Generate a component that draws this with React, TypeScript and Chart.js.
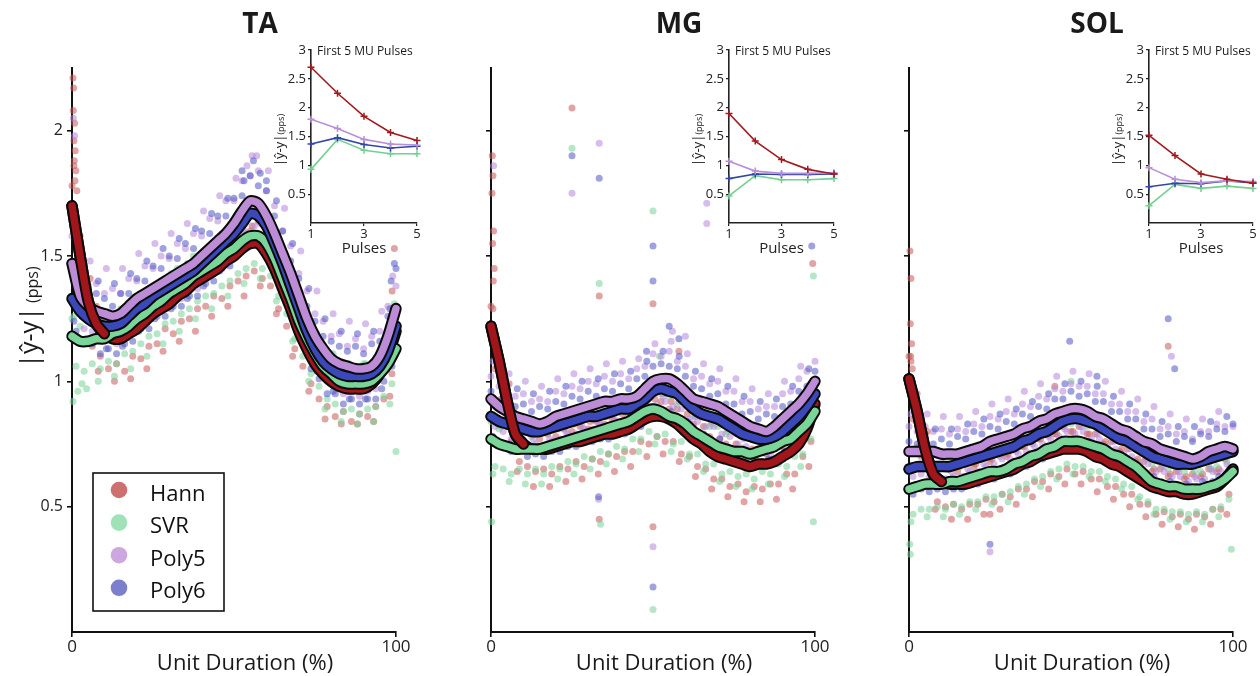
import React, { useEffect, useRef } from "react";
import { Chart, registerables } from "chart.js";

Chart.register(...registerables);

type Pt = [number, number];

const FONT = "'Open Sans', 'Noto Sans', sans-serif";
Chart.defaults.font.family = FONT;
Chart.defaults.color = "#222";

// ---------- shared categories / ticks ----------
const SERIES = ["Hann", "SVR", "Poly5", "Poly6"];
const CURVE_X = [0, 2.5, 5, 7.5, 10, 12.5, 15, 17.5, 20, 22.5, 25, 27.5, 30, 32.5, 35, 37.5, 40, 42.5, 45, 47.5, 50, 52.5, 55, 57.5, 60, 62.5, 65, 67.5, 70, 72.5, 75, 77.5, 80, 82.5, 85, 87.5, 90, 92.5, 95, 97.5, 100];
const LO_X = [1.25, 3.75, 6.25, 8.75, 11.25, 13.75, 16.25, 18.75, 21.25, 23.75, 26.25, 28.75, 31.25, 33.75, 36.25, 38.75, 41.25, 43.75, 46.25, 48.75, 51.25, 53.75, 56.25, 58.75, 61.25, 63.75, 66.25, 68.75, 71.25, 73.75, 76.25, 78.75, 81.25, 83.75, 86.25, 88.75, 91.25, 93.75, 96.25, 98.75];
const FAR_X = [0.6, 3.1, 5.6, 8.1, 10.6, 13.1, 15.6, 18.1, 20.6, 23.1, 25.6, 28.1, 30.6, 33.1, 35.6, 38.1, 40.6, 43.1, 45.6, 48.1, 50.6, 53.1, 55.6, 58.1, 60.6, 63.1, 65.6, 68.1, 70.6, 73.1, 75.6, 78.1, 80.6, 83.1, 85.6, 88.1, 90.6, 93.1, 95.6, 98.1];
const MAIN_X_TICKS = [0, 100];
const MAIN_Y_TICKS = [0.5, 1, 1.5, 2];
const INSET_X = [1, 2, 3, 4, 5];
const INSET_X_TICKS = [1, 3, 5];
const INSET_Y_TICKS = [0.5, 1, 1.5, 2, 2.5, 3];

const LINE_COLORS = ["#a0161b", "#7ad698", "#bd8cd7", "#3a48b9"];
const DOT_COLORS = ["rgba(200,90,90,0.55)", "rgba(120,210,152,0.55)", "rgba(182,134,218,0.55)", "rgba(80,86,196,0.55)"];
const LEGEND_COLORS = ["rgb(205,112,112)", "rgb(160,226,184)", "rgb(204,168,222)", "rgb(124,128,204)"];
const INSET_COLORS = ["#a3191c", "#74cf92", "#b98fd9", "#3346a8"];

// ---------- TA ----------
const TA_HANN = [1.70, 1.50, 1.32, 1.23, 1.19, 1.17, 1.17, 1.19, 1.21, 1.24, 1.27, 1.29, 1.31, 1.34, 1.36, 1.39, 1.41, 1.43, 1.45, 1.48, 1.50, 1.53, 1.55, 1.55, 1.51, 1.45, 1.37, 1.29, 1.20, 1.13, 1.07, 1.03, 1.00, 0.98, 0.97, 0.97, 0.97, 0.99, 1.03, 1.10, 1.20];
const TA_SVR = [1.18, 1.16, 1.16, 1.17, 1.17, 1.19, 1.20, 1.22, 1.25, 1.27, 1.30, 1.32, 1.35, 1.37, 1.39, 1.42, 1.44, 1.46, 1.48, 1.51, 1.53, 1.56, 1.58, 1.58, 1.55, 1.49, 1.41, 1.33, 1.24, 1.17, 1.11, 1.06, 1.03, 1.00, 0.99, 0.99, 0.99, 1.00, 1.03, 1.07, 1.13];
const TA_POLY5 = [1.47, 1.34, 1.30, 1.28, 1.27, 1.26, 1.27, 1.30, 1.33, 1.35, 1.37, 1.39, 1.41, 1.43, 1.45, 1.47, 1.50, 1.53, 1.56, 1.59, 1.63, 1.68, 1.72, 1.71, 1.66, 1.59, 1.51, 1.43, 1.34, 1.25, 1.18, 1.13, 1.09, 1.07, 1.06, 1.05, 1.05, 1.06, 1.10, 1.18, 1.29];
const TA_POLY6 = [1.33, 1.28, 1.25, 1.23, 1.22, 1.22, 1.23, 1.26, 1.29, 1.31, 1.34, 1.36, 1.38, 1.40, 1.42, 1.44, 1.47, 1.50, 1.53, 1.56, 1.59, 1.63, 1.67, 1.66, 1.62, 1.55, 1.47, 1.38, 1.29, 1.20, 1.13, 1.08, 1.05, 1.03, 1.02, 1.02, 1.02, 1.03, 1.06, 1.12, 1.22];

const TA_HANN_HI = [1.78, 1.58, 1.38, 1.30, 1.25, 1.26, 1.22, 1.27, 1.28, 1.33, 1.32, 1.38, 1.36, 1.42, 1.41, 1.47, 1.46, 1.52, 1.50, 1.56, 1.57, 1.62, 1.60, 1.64, 1.57, 1.53, 1.43, 1.37, 1.26, 1.21, 1.12, 1.10, 1.05, 1.06, 1.02, 1.04, 1.01, 1.06, 1.08, 1.18, 1.26];
const TA_HANN_LO = [1.48, 1.30, 1.14, 1.10, 1.05, 1.07, 1.04, 1.10, 1.09, 1.14, 1.15, 1.21, 1.19, 1.24, 1.25, 1.29, 1.30, 1.34, 1.33, 1.38, 1.40, 1.42, 1.44, 1.41, 1.38, 1.29, 1.22, 1.13, 1.06, 0.99, 0.93, 0.90, 0.86, 0.88, 0.84, 0.87, 0.86, 0.90, 0.93, 1.03];
const TA_HANN_FAR = [1.86, 1.32, 1.41, 1.04, 1.26, 1.00, 1.26, 1.01, 1.29, 1.05, 1.34, 1.12, 1.40, 1.16, 1.44, 1.20, 1.48, 1.26, 1.54, 1.30, 1.58, 1.34, 1.62, 1.38, 1.60, 1.27, 1.45, 1.10, 1.27, 0.96, 1.16, 0.85, 1.08, 0.83, 1.04, 0.83, 1.06, 0.84, 1.11, 0.94];
const TA_SVR_HI = [1.25, 1.22, 1.24, 1.23, 1.26, 1.25, 1.29, 1.28, 1.33, 1.34, 1.36, 1.40, 1.41, 1.45, 1.45, 1.50, 1.51, 1.54, 1.55, 1.59, 1.60, 1.64, 1.66, 1.65, 1.63, 1.56, 1.49, 1.40, 1.32, 1.24, 1.19, 1.13, 1.11, 1.07, 1.07, 1.05, 1.07, 1.07, 1.10, 1.15, 1.19];
const TA_SVR_LO = [1.06, 1.04, 1.07, 1.05, 1.08, 1.07, 1.11, 1.12, 1.15, 1.18, 1.19, 1.23, 1.24, 1.27, 1.29, 1.32, 1.34, 1.35, 1.38, 1.40, 1.43, 1.45, 1.47, 1.45, 1.42, 1.34, 1.27, 1.17, 1.10, 1.03, 0.98, 0.93, 0.91, 0.88, 0.89, 0.87, 0.89, 0.90, 0.94, 0.99];
const TA_SVR_FAR = [1.26, 0.99, 1.24, 1.00, 1.25, 1.02, 1.28, 1.05, 1.33, 1.10, 1.38, 1.15, 1.43, 1.20, 1.47, 1.25, 1.52, 1.29, 1.56, 1.34, 1.61, 1.39, 1.66, 1.41, 1.63, 1.32, 1.49, 1.16, 1.32, 1.00, 1.19, 0.89, 1.11, 0.84, 1.07, 0.83, 1.07, 0.84, 1.11, 0.91];
const TA_POLY5_HI = [1.58, 1.44, 1.38, 1.39, 1.35, 1.37, 1.35, 1.41, 1.40, 1.46, 1.45, 1.50, 1.49, 1.55, 1.53, 1.59, 1.58, 1.65, 1.64, 1.72, 1.72, 1.80, 1.82, 1.84, 1.76, 1.70, 1.60, 1.54, 1.43, 1.36, 1.27, 1.24, 1.18, 1.19, 1.14, 1.17, 1.13, 1.18, 1.20, 1.30, 1.38];
const TA_POLY5_LO = [1.30, 1.21, 1.20, 1.16, 1.17, 1.15, 1.19, 1.20, 1.25, 1.25, 1.29, 1.29, 1.33, 1.33, 1.37, 1.37, 1.42, 1.43, 1.48, 1.50, 1.56, 1.59, 1.62, 1.57, 1.53, 1.44, 1.38, 1.27, 1.20, 1.10, 1.06, 1.00, 0.99, 0.95, 0.96, 0.94, 0.96, 0.97, 1.05, 1.12];
const TA_POLY5_FAR = [1.65, 1.26, 1.48, 1.20, 1.45, 1.18, 1.45, 1.22, 1.51, 1.27, 1.55, 1.31, 1.59, 1.35, 1.63, 1.39, 1.68, 1.45, 1.74, 1.51, 1.81, 1.60, 1.90, 1.63, 1.84, 1.51, 1.69, 1.35, 1.52, 1.17, 1.36, 1.05, 1.27, 0.99, 1.24, 0.97, 1.23, 0.98, 1.28, 1.10];
const TA_POLY6_HI = [1.45, 1.39, 1.36, 1.35, 1.33, 1.30, 1.35, 1.35, 1.41, 1.40, 1.46, 1.45, 1.50, 1.49, 1.55, 1.53, 1.60, 1.59, 1.66, 1.66, 1.73, 1.74, 1.82, 1.78, 1.76, 1.66, 1.60, 1.48, 1.41, 1.30, 1.24, 1.18, 1.16, 1.14, 1.12, 1.14, 1.11, 1.15, 1.16, 1.26, 1.45];
const TA_POLY6_LO = [1.20, 1.15, 1.15, 1.11, 1.13, 1.11, 1.15, 1.16, 1.21, 1.21, 1.26, 1.26, 1.30, 1.30, 1.34, 1.34, 1.39, 1.40, 1.45, 1.46, 1.52, 1.54, 1.57, 1.53, 1.49, 1.40, 1.33, 1.22, 1.15, 1.05, 1.01, 0.95, 0.95, 0.91, 0.93, 0.91, 0.93, 0.93, 1.00, 1.06];
const TA_POLY6_FAR = [1.24, 1.45, 1.16, 1.40, 1.13, 1.39, 1.14, 1.43, 1.20, 1.48, 1.25, 1.53, 1.29, 1.57, 1.33, 1.61, 1.38, 1.67, 1.44, 1.73, 1.50, 1.80, 1.58, 1.83, 1.53, 1.72, 1.38, 1.55, 1.20, 1.37, 1.04, 1.25, 0.96, 1.20, 0.93, 1.19, 0.93, 1.20, 0.97, 1.29];

const TA_OUT_HANN: Pt[] = [[0.3, 2.21], [0.5, 2.17], [0.4, 2.08], [0.8, 2.03], [0.6, 1.96], [1.0, 1.92], [0.7, 1.88], [1.2, 1.84], [0.9, 1.80], [1.5, 1.76], [99.5, 1.53], [98.8, 1.36]];
const TA_OUT_SVR: Pt[] = [[0.3, 0.92], [1.8, 0.96], [4.5, 0.97], [100, 0.72], [99.5, 1.31]];
const TA_OUT_POLY5: Pt[] = [[0.4, 2.05], [0.8, 1.98], [57, 1.90], [54, 1.86], [99, 1.42]];
const TA_OUT_POLY6: Pt[] = [[56, 1.88], [52.5, 1.84], [99.5, 1.47], [98.5, 1.40], [60, 1.80]];

const TA_INSET_HANN = [2.70, 2.25, 1.85, 1.57, 1.43];
const TA_INSET_SVR = [0.93, 1.45, 1.26, 1.20, 1.20];
const TA_INSET_POLY5 = [1.80, 1.64, 1.45, 1.37, 1.35];
const TA_INSET_POLY6 = [1.37, 1.48, 1.36, 1.30, 1.33];

// ---------- MG ----------
const MG_HANN = [1.22, 1.08, 0.92, 0.79, 0.75, 0.73, 0.73, 0.73, 0.74, 0.75, 0.76, 0.76, 0.77, 0.78, 0.79, 0.79, 0.80, 0.81, 0.83, 0.85, 0.86, 0.86, 0.85, 0.83, 0.80, 0.77, 0.75, 0.72, 0.70, 0.69, 0.68, 0.67, 0.66, 0.67, 0.67, 0.68, 0.70, 0.72, 0.75, 0.81, 0.91];
const MG_SVR = [0.77, 0.75, 0.74, 0.73, 0.73, 0.73, 0.73, 0.74, 0.75, 0.76, 0.77, 0.78, 0.79, 0.80, 0.81, 0.82, 0.83, 0.84, 0.86, 0.88, 0.89, 0.88, 0.86, 0.85, 0.83, 0.80, 0.78, 0.76, 0.74, 0.73, 0.72, 0.72, 0.71, 0.72, 0.73, 0.74, 0.76, 0.77, 0.80, 0.83, 0.88];
const MG_POLY5 = [0.93, 0.90, 0.88, 0.86, 0.85, 0.84, 0.83, 0.84, 0.86, 0.87, 0.88, 0.89, 0.90, 0.91, 0.92, 0.92, 0.93, 0.93, 0.94, 0.97, 1.00, 1.01, 1.01, 0.99, 0.96, 0.93, 0.92, 0.91, 0.90, 0.88, 0.86, 0.84, 0.82, 0.81, 0.80, 0.82, 0.85, 0.88, 0.91, 0.95, 1.00];
const MG_POLY6 = [0.86, 0.84, 0.83, 0.82, 0.81, 0.80, 0.80, 0.81, 0.82, 0.83, 0.84, 0.85, 0.86, 0.86, 0.87, 0.88, 0.89, 0.89, 0.91, 0.93, 0.96, 0.97, 0.96, 0.95, 0.92, 0.89, 0.87, 0.86, 0.85, 0.83, 0.81, 0.79, 0.78, 0.77, 0.77, 0.78, 0.80, 0.83, 0.86, 0.90, 0.95];

const MG_HANN_HI = [1.30, 1.12, 0.96, 0.85, 0.80, 0.79, 0.77, 0.79, 0.78, 0.81, 0.80, 0.82, 0.81, 0.84, 0.83, 0.85, 0.84, 0.87, 0.88, 0.91, 0.90, 0.92, 0.89, 0.89, 0.84, 0.83, 0.79, 0.78, 0.74, 0.75, 0.72, 0.73, 0.70, 0.73, 0.71, 0.74, 0.74, 0.78, 0.79, 0.87, 0.95];
const MG_HANN_LO = [1.05, 0.92, 0.76, 0.68, 0.66, 0.64, 0.65, 0.63, 0.66, 0.65, 0.68, 0.66, 0.69, 0.68, 0.71, 0.70, 0.72, 0.72, 0.76, 0.75, 0.78, 0.76, 0.76, 0.71, 0.70, 0.66, 0.65, 0.61, 0.61, 0.58, 0.59, 0.56, 0.58, 0.57, 0.59, 0.59, 0.63, 0.63, 0.70, 0.76];
const MG_HANN_FAR = [1.29, 0.93, 0.99, 0.64, 0.82, 0.58, 0.80, 0.58, 0.81, 0.60, 0.83, 0.61, 0.84, 0.63, 0.86, 0.64, 0.87, 0.66, 0.90, 0.70, 0.93, 0.71, 0.92, 0.68, 0.87, 0.62, 0.82, 0.57, 0.77, 0.54, 0.75, 0.52, 0.73, 0.52, 0.74, 0.53, 0.77, 0.57, 0.82, 0.66];
const MG_SVR_HI = [0.84, 0.81, 0.82, 0.79, 0.81, 0.78, 0.80, 0.80, 0.83, 0.82, 0.85, 0.84, 0.87, 0.86, 0.89, 0.88, 0.91, 0.90, 0.94, 0.95, 0.97, 0.95, 0.94, 0.91, 0.91, 0.86, 0.86, 0.82, 0.82, 0.79, 0.80, 0.78, 0.79, 0.78, 0.81, 0.80, 0.84, 0.83, 0.88, 0.89, 0.93];
const MG_SVR_LO = [0.66, 0.65, 0.63, 0.65, 0.63, 0.65, 0.63, 0.66, 0.65, 0.68, 0.67, 0.70, 0.69, 0.72, 0.71, 0.74, 0.73, 0.77, 0.77, 0.80, 0.78, 0.79, 0.75, 0.76, 0.71, 0.71, 0.67, 0.67, 0.63, 0.64, 0.62, 0.63, 0.61, 0.64, 0.63, 0.67, 0.66, 0.70, 0.71, 0.77];
const MG_SVR_FAR = [0.63, 0.82, 0.60, 0.80, 0.59, 0.80, 0.59, 0.81, 0.61, 0.83, 0.63, 0.85, 0.65, 0.87, 0.67, 0.89, 0.69, 0.91, 0.72, 0.95, 0.75, 0.95, 0.72, 0.92, 0.69, 0.87, 0.64, 0.83, 0.60, 0.80, 0.58, 0.79, 0.57, 0.79, 0.59, 0.81, 0.62, 0.84, 0.66, 0.90];
const MG_POLY5_HI = [1.02, 0.98, 0.98, 0.94, 0.95, 0.92, 0.93, 0.92, 0.96, 0.95, 0.98, 0.97, 1.00, 0.99, 1.02, 1.00, 1.03, 1.01, 1.05, 1.06, 1.11, 1.10, 1.12, 1.08, 1.06, 1.01, 1.02, 0.99, 1.00, 0.96, 0.96, 0.92, 0.92, 0.89, 0.90, 0.90, 0.95, 0.96, 1.01, 1.04, 1.08];
const MG_POLY5_LO = [0.82, 0.80, 0.77, 0.77, 0.75, 0.75, 0.74, 0.76, 0.77, 0.79, 0.79, 0.81, 0.81, 0.83, 0.82, 0.84, 0.83, 0.85, 0.86, 0.90, 0.91, 0.92, 0.90, 0.89, 0.85, 0.84, 0.82, 0.82, 0.79, 0.78, 0.75, 0.74, 0.72, 0.72, 0.71, 0.75, 0.77, 0.81, 0.83, 0.89];
const MG_POLY5_FAR = [1.08, 0.83, 1.03, 0.79, 1.00, 0.77, 0.98, 0.77, 1.01, 0.80, 1.03, 0.82, 1.05, 0.84, 1.07, 0.85, 1.08, 0.86, 1.09, 0.90, 1.15, 0.94, 1.16, 0.92, 1.11, 0.86, 1.07, 0.84, 1.05, 0.81, 1.01, 0.77, 0.97, 0.74, 0.95, 0.75, 1.00, 0.81, 1.06, 0.88];
const MG_POLY6_HI = [0.96, 0.92, 0.93, 0.90, 0.91, 0.88, 0.90, 0.89, 0.92, 0.91, 0.94, 0.93, 0.96, 0.94, 0.97, 0.96, 0.99, 0.97, 1.01, 1.02, 1.06, 1.07, 1.06, 1.05, 1.02, 0.98, 0.97, 0.94, 0.95, 0.91, 0.91, 0.87, 0.88, 0.85, 0.87, 0.86, 0.90, 0.91, 0.96, 0.98, 1.04];
const MG_POLY6_LO = [0.75, 0.74, 0.72, 0.72, 0.70, 0.71, 0.70, 0.72, 0.72, 0.74, 0.74, 0.76, 0.76, 0.77, 0.77, 0.79, 0.79, 0.81, 0.82, 0.85, 0.86, 0.87, 0.85, 0.84, 0.80, 0.79, 0.76, 0.76, 0.74, 0.73, 0.70, 0.69, 0.67, 0.68, 0.67, 0.70, 0.71, 0.75, 0.78, 0.83];
const MG_POLY6_FAR = [0.78, 0.99, 0.75, 0.97, 0.73, 0.95, 0.72, 0.96, 0.74, 0.98, 0.76, 1.00, 0.78, 1.01, 0.79, 1.03, 0.81, 1.04, 0.83, 1.08, 0.88, 1.12, 0.88, 1.10, 0.84, 1.04, 0.79, 1.01, 0.77, 0.98, 0.73, 0.94, 0.70, 0.92, 0.69, 0.93, 0.72, 0.98, 0.78, 1.05];

const MG_OUT_HANN: Pt[] = [[25, 2.09], [33.4, 1.34], [50, 1.31], [33.4, 0.45], [50, 0.42], [0.4, 1.9], [0.6, 1.82], [0.3, 1.75], [0.8, 1.6], [0.5, 1.55], [1.0, 1.45], [0.7, 1.40], [99.3, 1.47], [58, 1.12]];
const MG_OUT_SVR: Pt[] = [[25, 1.93], [33.4, 1.39], [50, 1.68], [33.8, 0.43], [50, 0.09], [0.2, 0.44], [99.5, 1.42], [99.5, 0.44], [52, 1.10]];
const MG_OUT_POLY5: Pt[] = [[25, 1.75], [33.4, 1.95], [33.2, 0.53], [50, 0.34], [66.6, 1.71], [66.6, 1.63], [0.8, 1.86], [56, 1.20], [60, 1.18]];
const MG_OUT_POLY6: Pt[] = [[25, 1.90], [33.4, 1.81], [50, 1.54], [50, 1.40], [33.2, 0.54], [50, 0.18], [99, 1.54], [55, 1.22], [58, 1.17], [48, 1.12]];

const MG_INSET_HANN = [1.90, 1.42, 1.10, 0.93, 0.85];
const MG_INSET_SVR = [0.47, 0.82, 0.75, 0.75, 0.77];
const MG_INSET_POLY5 = [1.07, 0.90, 0.86, 0.86, 0.87];
const MG_INSET_POLY6 = [0.77, 0.85, 0.84, 0.84, 0.85];

// ---------- SOL ----------
const SOL_HANN = [1.01, 0.88, 0.73, 0.63, 0.60, 0.59, 0.59, 0.59, 0.60, 0.61, 0.62, 0.63, 0.64, 0.65, 0.67, 0.68, 0.70, 0.71, 0.72, 0.73, 0.73, 0.73, 0.72, 0.70, 0.69, 0.67, 0.66, 0.64, 0.62, 0.60, 0.58, 0.57, 0.56, 0.56, 0.55, 0.55, 0.56, 0.57, 0.58, 0.61, 0.65];
const SOL_SVR = [0.57, 0.58, 0.59, 0.59, 0.59, 0.60, 0.60, 0.61, 0.62, 0.63, 0.64, 0.64, 0.65, 0.67, 0.68, 0.70, 0.71, 0.73, 0.74, 0.76, 0.76, 0.76, 0.75, 0.74, 0.73, 0.71, 0.70, 0.68, 0.66, 0.63, 0.60, 0.59, 0.58, 0.58, 0.57, 0.57, 0.57, 0.58, 0.59, 0.61, 0.64];
const SOL_POLY5 = [0.72, 0.72, 0.72, 0.72, 0.71, 0.71, 0.71, 0.72, 0.73, 0.74, 0.76, 0.77, 0.78, 0.79, 0.81, 0.82, 0.84, 0.85, 0.87, 0.88, 0.89, 0.89, 0.88, 0.86, 0.85, 0.83, 0.81, 0.80, 0.78, 0.76, 0.75, 0.73, 0.72, 0.71, 0.70, 0.69, 0.70, 0.72, 0.73, 0.74, 0.73];
const SOL_POLY6 = [0.65, 0.66, 0.66, 0.66, 0.66, 0.66, 0.67, 0.68, 0.69, 0.70, 0.71, 0.72, 0.73, 0.74, 0.76, 0.77, 0.79, 0.80, 0.82, 0.84, 0.85, 0.85, 0.84, 0.83, 0.81, 0.79, 0.77, 0.76, 0.74, 0.72, 0.70, 0.69, 0.68, 0.67, 0.67, 0.67, 0.68, 0.69, 0.70, 0.71, 0.72];

const SOL_HANN_HI = [1.10, 0.95, 0.79, 0.71, 0.66, 0.67, 0.64, 0.67, 0.66, 0.69, 0.68, 0.71, 0.70, 0.73, 0.74, 0.76, 0.77, 0.80, 0.79, 0.82, 0.80, 0.82, 0.79, 0.79, 0.75, 0.76, 0.72, 0.73, 0.68, 0.68, 0.64, 0.65, 0.62, 0.64, 0.61, 0.63, 0.62, 0.65, 0.64, 0.69, 0.71];
const SOL_HANN_LO = [0.85, 0.70, 0.58, 0.52, 0.50, 0.51, 0.49, 0.51, 0.51, 0.53, 0.52, 0.55, 0.54, 0.57, 0.57, 0.60, 0.60, 0.63, 0.62, 0.65, 0.63, 0.64, 0.61, 0.61, 0.58, 0.58, 0.55, 0.55, 0.51, 0.51, 0.47, 0.48, 0.46, 0.47, 0.45, 0.47, 0.46, 0.49, 0.49, 0.55];
const SOL_HANN_FAR = [1.08, 0.74, 0.80, 0.49, 0.67, 0.45, 0.66, 0.45, 0.67, 0.47, 0.69, 0.49, 0.71, 0.51, 0.74, 0.54, 0.77, 0.57, 0.79, 0.59, 0.80, 0.59, 0.79, 0.56, 0.76, 0.53, 0.73, 0.50, 0.69, 0.46, 0.65, 0.43, 0.63, 0.42, 0.62, 0.41, 0.63, 0.43, 0.65, 0.47];
const SOL_SVR_HI = [0.64, 0.66, 0.65, 0.67, 0.66, 0.68, 0.67, 0.69, 0.69, 0.71, 0.71, 0.72, 0.72, 0.75, 0.75, 0.78, 0.78, 0.81, 0.81, 0.84, 0.83, 0.85, 0.82, 0.83, 0.80, 0.80, 0.77, 0.77, 0.73, 0.72, 0.67, 0.68, 0.65, 0.67, 0.64, 0.66, 0.64, 0.67, 0.66, 0.70, 0.71];
const SOL_SVR_LO = [0.47, 0.49, 0.49, 0.50, 0.49, 0.51, 0.50, 0.52, 0.52, 0.54, 0.54, 0.55, 0.56, 0.58, 0.59, 0.61, 0.62, 0.64, 0.65, 0.67, 0.66, 0.66, 0.64, 0.64, 0.62, 0.61, 0.59, 0.58, 0.54, 0.52, 0.49, 0.49, 0.48, 0.48, 0.47, 0.48, 0.47, 0.49, 0.50, 0.53];
const SOL_SVR_FAR = [0.44, 0.65, 0.46, 0.66, 0.46, 0.67, 0.47, 0.68, 0.49, 0.70, 0.51, 0.71, 0.52, 0.74, 0.55, 0.77, 0.58, 0.80, 0.61, 0.83, 0.63, 0.83, 0.62, 0.81, 0.60, 0.78, 0.57, 0.75, 0.53, 0.70, 0.47, 0.66, 0.45, 0.65, 0.44, 0.64, 0.44, 0.65, 0.46, 0.68];
const SOL_POLY5_HI = [0.82, 0.80, 0.82, 0.80, 0.81, 0.79, 0.81, 0.80, 0.83, 0.82, 0.86, 0.85, 0.88, 0.87, 0.91, 0.90, 0.94, 0.93, 0.97, 0.96, 0.99, 0.98, 0.98, 0.95, 0.95, 0.91, 0.91, 0.88, 0.88, 0.84, 0.85, 0.81, 0.82, 0.79, 0.80, 0.77, 0.80, 0.80, 0.83, 0.82, 0.82];
const SOL_POLY5_LO = [0.62, 0.63, 0.62, 0.63, 0.61, 0.62, 0.62, 0.64, 0.64, 0.66, 0.67, 0.69, 0.69, 0.71, 0.72, 0.74, 0.75, 0.77, 0.78, 0.80, 0.79, 0.80, 0.77, 0.77, 0.74, 0.73, 0.71, 0.70, 0.67, 0.67, 0.64, 0.64, 0.62, 0.62, 0.60, 0.61, 0.61, 0.64, 0.64, 0.65];
const SOL_POLY5_FAR = [0.87, 0.65, 0.87, 0.65, 0.86, 0.64, 0.86, 0.65, 0.88, 0.67, 0.91, 0.70, 0.93, 0.72, 0.96, 0.75, 0.99, 0.78, 1.02, 0.81, 1.04, 0.82, 1.03, 0.79, 1.00, 0.76, 0.96, 0.73, 0.93, 0.69, 0.90, 0.66, 0.87, 0.64, 0.85, 0.62, 0.85, 0.65, 0.88, 0.67];
const SOL_POLY6_HI = [0.76, 0.75, 0.77, 0.75, 0.77, 0.75, 0.78, 0.77, 0.80, 0.79, 0.82, 0.81, 0.84, 0.83, 0.87, 0.86, 0.90, 0.89, 0.93, 0.93, 0.96, 0.94, 0.95, 0.92, 0.92, 0.88, 0.88, 0.85, 0.85, 0.81, 0.81, 0.78, 0.79, 0.76, 0.78, 0.76, 0.79, 0.78, 0.81, 0.80, 0.83];
const SOL_POLY6_LO = [0.55, 0.57, 0.56, 0.57, 0.56, 0.57, 0.57, 0.59, 0.59, 0.61, 0.61, 0.63, 0.63, 0.66, 0.66, 0.69, 0.69, 0.72, 0.73, 0.75, 0.75, 0.75, 0.73, 0.73, 0.70, 0.69, 0.66, 0.66, 0.63, 0.62, 0.59, 0.59, 0.57, 0.58, 0.57, 0.58, 0.58, 0.60, 0.60, 0.62];
const SOL_POLY6_FAR = [0.57, 0.81, 0.58, 0.81, 0.58, 0.81, 0.59, 0.83, 0.61, 0.85, 0.63, 0.87, 0.65, 0.89, 0.68, 0.92, 0.71, 0.95, 0.74, 0.99, 0.77, 1.00, 0.76, 0.98, 0.73, 0.94, 0.69, 0.91, 0.66, 0.87, 0.62, 0.84, 0.60, 0.82, 0.59, 0.82, 0.60, 0.84, 0.62, 0.86];

const SOL_OUT_HANN: Pt[] = [[0.3, 1.52], [0.6, 1.41], [0.4, 1.23], [0.8, 1.15], [0.5, 1.10], [1.0, 1.05], [25, 0.47], [80, 1.14], [45, 0.98]];
const SOL_OUT_SVR: Pt[] = [[0.2, 0.35], [0.4, 0.31], [99.5, 0.33], [50, 1.0]];
const SOL_OUT_POLY5: Pt[] = [[25, 0.32], [81, 1.10], [0.3, 0.98]];
const SOL_OUT_POLY6: Pt[] = [[25, 0.35], [80, 1.25], [49.6, 1.16], [82, 1.05], [58, 1.02]];

const SOL_INSET_HANN = [1.52, 1.17, 0.85, 0.76, 0.69];
const SOL_INSET_SVR = [0.30, 0.67, 0.60, 0.64, 0.60];
const SOL_INSET_POLY5 = [0.96, 0.76, 0.70, 0.73, 0.72];
const SOL_INSET_POLY6 = [0.63, 0.69, 0.68, 0.73, 0.70];

// ---------- helpers ----------
type TextPart = { text: string; size: number; weight?: string };
type TextItem = {
  parts: TextPart[];
  x: (a: any) => number;
  y: (a: any) => number;
  rotate?: boolean;
  align?: "center" | "left";
};

function textPlugin(id: string, items: TextItem[]) {
  return {
    id,
    afterDraw(chart: any) {
      const ctx: CanvasRenderingContext2D = chart.ctx;
      const area = chart.chartArea;
      ctx.save();
      for (const it of items) {
        let total = 0;
        const widths = it.parts.map((p) => {
          ctx.font = `${p.weight || "normal"} ${p.size}px ${FONT}`;
          const w = ctx.measureText(p.text).width;
          total += w;
          return w;
        });
        ctx.save();
        ctx.translate(it.x(area), it.y(area));
        if (it.rotate) ctx.rotate(-Math.PI / 2);
        let cx = it.align === "left" ? 0 : -total / 2;
        ctx.fillStyle = "#1a1a1a";
        ctx.textBaseline = "alphabetic";
        ctx.textAlign = "left";
        it.parts.forEach((p, i) => {
          ctx.font = `${p.weight || "normal"} ${p.size}px ${FONT}`;
          ctx.fillText(p.text, cx, 0);
          cx += widths[i];
        });
        ctx.restore();
      }
      ctx.restore();
    },
  };
}

const legendPlugin = {
  id: "boxLegend",
  afterDraw(chart: any) {
    const ctx: CanvasRenderingContext2D = chart.ctx;
    ctx.save();
    ctx.fillStyle = "#fff";
    ctx.fillRect(93, 473, 131, 138);
    ctx.strokeStyle = "#111";
    ctx.lineWidth = 1.6;
    ctx.strokeRect(93, 473, 131, 138);
    SERIES.forEach((name, i) => {
      const cy = 490 + i * 32.6;
      ctx.beginPath();
      ctx.arc(119, cy, 8.3, 0, Math.PI * 2);
      ctx.fillStyle = LEGEND_COLORS[i];
      ctx.fill();
      ctx.fillStyle = "#111";
      ctx.font = `22px ${FONT}`;
      ctx.textBaseline = "alphabetic";
      ctx.textAlign = "left";
      ctx.fillText(name, 150, cy + 10.5);
    });
    ctx.restore();
  },
};

const pts = (xs: number[], ys: number[]) => ys.map((y, i) => ({ x: xs[i], y }));
const outPts = (o: Pt[]) => o.map(([x, y]) => ({ x, y }));

interface PanelSpec {
  title: string;
  curves: number[][];
  hi: number[][];
  lo: number[][];
  far: number[][];
  out: Pt[][];
  inset: number[][];
  canvasLeft: number;
  yAxisWidth: number;
  rightPad: number;
  first: boolean;
  insetAxisX: number;
  insetAreaW: number;
}

const PANELS: PanelSpec[] = [
  {
    title: "TA",
    curves: [TA_HANN, TA_SVR, TA_POLY5, TA_POLY6],
    hi: [TA_HANN_HI, TA_SVR_HI, TA_POLY5_HI, TA_POLY6_HI],
    lo: [TA_HANN_LO, TA_SVR_LO, TA_POLY5_LO, TA_POLY6_LO],
    far: [TA_HANN_FAR, TA_SVR_FAR, TA_POLY5_FAR, TA_POLY6_FAR],
    out: [TA_OUT_HANN, TA_OUT_SVR, TA_OUT_POLY5, TA_OUT_POLY6],
    inset: [TA_INSET_HANN, TA_INSET_SVR, TA_INSET_POLY5, TA_INSET_POLY6],
    canvasLeft: 0, yAxisWidth: 72, rightPad: 24, first: true, insetAxisX: 311, insetAreaW: 106,
  },
  {
    title: "MG",
    curves: [MG_HANN, MG_SVR, MG_POLY5, MG_POLY6],
    hi: [MG_HANN_HI, MG_SVR_HI, MG_POLY5_HI, MG_POLY6_HI],
    lo: [MG_HANN_LO, MG_SVR_LO, MG_POLY5_LO, MG_POLY6_LO],
    far: [MG_HANN_FAR, MG_SVR_FAR, MG_POLY5_FAR, MG_POLY6_FAR],
    out: [MG_OUT_HANN, MG_OUT_SVR, MG_OUT_POLY5, MG_OUT_POLY6],
    inset: [MG_INSET_HANN, MG_INSET_SVR, MG_INSET_POLY5, MG_INSET_POLY6],
    canvasLeft: 420, yAxisWidth: 71, rightPad: 25, first: false, insetAxisX: 729, insetAreaW: 105,
  },
  {
    title: "SOL",
    curves: [SOL_HANN, SOL_SVR, SOL_POLY5, SOL_POLY6],
    hi: [SOL_HANN_HI, SOL_SVR_HI, SOL_POLY5_HI, SOL_POLY6_HI],
    lo: [SOL_HANN_LO, SOL_SVR_LO, SOL_POLY5_LO, SOL_POLY6_LO],
    far: [SOL_HANN_FAR, SOL_SVR_FAR, SOL_POLY5_FAR, SOL_POLY6_FAR],
    out: [SOL_OUT_HANN, SOL_OUT_SVR, SOL_OUT_POLY5, SOL_OUT_POLY6],
    inset: [SOL_INSET_HANN, SOL_INSET_SVR, SOL_INSET_POLY5, SOL_INSET_POLY6],
    canvasLeft: 840, yAxisWidth: 69, rightPad: 27, first: false, insetAxisX: 1149, insetAreaW: 104,
  },
];

const MAIN_W = 420;
const MAIN_H = 676;

function buildMain(p: PanelSpec): any {
  const datasets: any[] = [];
  const dotOrder = [40, 39, 38, 37];
  SERIES.forEach((name, i) => {
    datasets.push({
      type: "line",
      label: name,
      data: [...pts(CURVE_X, p.hi[i]), ...pts(LO_X, p.lo[i]), ...pts(FAR_X, p.far[i]), ...outPts(p.out[i])],
      showLine: false,
      pointRadius: 3.5,
      pointBorderWidth: 0,
      pointBackgroundColor: DOT_COLORS[i],
      pointBorderColor: DOT_COLORS[i],
      order: dotOrder[i],
      clip: false,
    });
  });
  const addLine = (ys: number[], color: string, order: number) => {
    const base = { type: "line", data: pts(CURVE_X, ys), pointRadius: 0, tension: 0.25, borderJoinStyle: "round", borderCapStyle: "round", clip: false, fill: false };
    datasets.push({ ...base, borderColor: "#0a0a0a", borderWidth: 11.5, order: order + 1 });
    datasets.push({ ...base, borderColor: color, borderWidth: 7.5, order });
  };
  addLine(p.curves[0], LINE_COLORS[0], 30);
  addLine(p.curves[1], LINE_COLORS[1], 28);
  addLine(p.curves[3], LINE_COLORS[3], 26);
  addLine(p.curves[2], LINE_COLORS[2], 24);
  addLine(p.curves[0].slice(0, 5), LINE_COLORS[0], 20);

  const items: TextItem[] = [
    { parts: [{ text: p.title, size: 28, weight: "bold" }], x: (a) => (a.left + a.right) / 2 + 26, y: () => 33 },
    { parts: [{ text: "Unit Duration (%)", size: 22 }], x: (a) => (a.left + a.right) / 2 + 11, y: () => 670 },
  ];
  if (p.first) {
    items.push({ parts: [{ text: "|ŷ-y|", size: 25 }, { text: " (pps)", size: 16 }], x: () => 38, y: () => 317, rotate: true });
  }
  const plugins: any[] = [textPlugin("mainText", items)];
  if (p.first) plugins.push(legendPlugin);

  return {
    type: "line",
    data: { datasets },
    plugins,
    options: {
      responsive: false,
      animation: false,
      events: [],
      layout: { padding: { top: 68, right: p.rightPad, left: 0, bottom: 0 } },
      plugins: { legend: { display: false }, tooltip: { enabled: false }, title: { display: false } },
      scales: {
        x: {
          type: "linear",
          min: 0,
          max: 100,
          afterBuildTicks: (s: any) => { s.ticks = MAIN_X_TICKS.map((v) => ({ value: v })); },
          afterFit: (s: any) => { s.height = 44; },
          grid: { display: true, drawOnChartArea: false, drawTicks: true, tickLength: 5, color: "#111", lineWidth: 1.6 },
          border: { display: true, color: "#111", width: 2 },
          ticks: { color: "#222", font: { size: 17 }, padding: 0, maxRotation: 0, autoSkip: false, callback: (v: any) => String(v) },
        },
        y: {
          type: "linear",
          min: 0,
          max: 2.25,
          afterBuildTicks: (s: any) => { s.ticks = MAIN_Y_TICKS.map((v) => ({ value: v })); },
          afterFit: (s: any) => { s.width = p.yAxisWidth; },
          grid: { display: true, drawOnChartArea: false, drawTicks: true, tickLength: 5, color: "#111", lineWidth: 1.6 },
          border: { display: true, color: "#111", width: 2 },
          ticks: { display: p.first, color: "#222", font: { size: 16 }, padding: 4, autoSkip: false, callback: (v: any) => String(v) },
        },
      },
    },
  };
}

const INSET_TOP = 30;
const INSET_H = 240;
const INSET_YW = 46;

function insetGeom(p: PanelSpec) {
  const left = p.insetAxisX - INSET_YW;
  const rp = Math.min(12, 1260 - (p.insetAxisX + p.insetAreaW));
  const width = INSET_YW + p.insetAreaW + rp;
  return { left, width, rp };
}

function buildInset(p: PanelSpec): any {
  const g = insetGeom(p);
  const orders = [1, 4, 2, 3];
  const datasets = SERIES.map((name, i) => ({
    type: "line",
    label: name,
    data: pts(INSET_X, p.inset[i]),
    borderColor: INSET_COLORS[i],
    borderWidth: 1.6,
    pointStyle: "cross",
    pointRadius: 3.5,
    pointBorderWidth: 1.5,
    pointBorderColor: INSET_COLORS[i],
    tension: 0,
    order: orders[i],
    clip: false,
  }));
  const items: TextItem[] = [
    { parts: [{ text: "First 5 MU Pulses", size: 12 }], x: (a) => a.left + 6, y: (a) => a.top + 4.5, align: "left" },
    { parts: [{ text: "|ŷ-y|", size: 13 }, { text: "(pps)", size: 9 }], x: (a) => a.left - 27, y: (a) => a.top + 90, rotate: true },
  ];
  return {
    type: "line",
    data: { datasets },
    plugins: [textPlugin("insetText", items)],
    options: {
      responsive: false,
      animation: false,
      events: [],
      layout: { padding: { top: 20, right: g.rp, left: 0, bottom: 0 } },
      plugins: { legend: { display: false }, tooltip: { enabled: false }, title: { display: false } },
      scales: {
        x: {
          type: "linear",
          min: 1,
          max: 5,
          afterBuildTicks: (s: any) => { s.ticks = INSET_X_TICKS.map((v) => ({ value: v })); },
          afterFit: (s: any) => { s.height = INSET_H - 20 - 173; },
          grid: { display: true, drawOnChartArea: false, drawTicks: true, tickLength: 3, color: "#222", lineWidth: 1.2 },
          border: { display: true, color: "#222", width: 1.6 },
          ticks: { color: "#222", font: { size: 13 }, padding: 0, maxRotation: 0, autoSkip: false, callback: (v: any) => String(v) },
          title: { display: true, text: "Pulses", font: { size: 15 }, color: "#222", padding: { top: 0, bottom: 12 } },
        },
        y: {
          type: "linear",
          min: 0,
          max: 3,
          afterBuildTicks: (s: any) => { s.ticks = INSET_Y_TICKS.map((v) => ({ value: v })); },
          afterFit: (s: any) => { s.width = INSET_YW; },
          grid: { display: true, drawOnChartArea: false, drawTicks: true, tickLength: 3, color: "#222", lineWidth: 1.2 },
          border: { display: true, color: "#222", width: 1.6 },
          ticks: { color: "#222", font: { size: 13 }, padding: 2, autoSkip: false, callback: (v: any) => String(v) },
        },
      },
    },
  };
}

function ChartCanvas(props: { left: number; top: number; width: number; height: number; build: () => any }) {
  const ref = useRef<HTMLCanvasElement>(null);
  useEffect(() => {
    if (!ref.current) return;
    const chart = new Chart(ref.current, props.build());
    return () => chart.destroy();
  }, []);
  return (
    <canvas
      ref={ref}
      width={props.width}
      height={props.height}
      style={{ position: "absolute", left: props.left, top: props.top, width: props.width, height: props.height }}
    />
  );
}

export default function App() {
  return (
    <div style={{ position: "fixed", left: 0, top: 0, width: 1260, height: 676, overflow: "hidden", background: "#fff" }}>
      {PANELS.map((p) => (
        <ChartCanvas key={"m" + p.title} left={p.canvasLeft} top={0} width={MAIN_W} height={MAIN_H} build={() => buildMain(p)} />
      ))}
      {PANELS.map((p) => {
        const g = insetGeom(p);
        return <ChartCanvas key={"i" + p.title} left={g.left} top={INSET_TOP} width={g.width} height={INSET_H} build={() => buildInset(p)} />;
      })}
    </div>
  );
}
